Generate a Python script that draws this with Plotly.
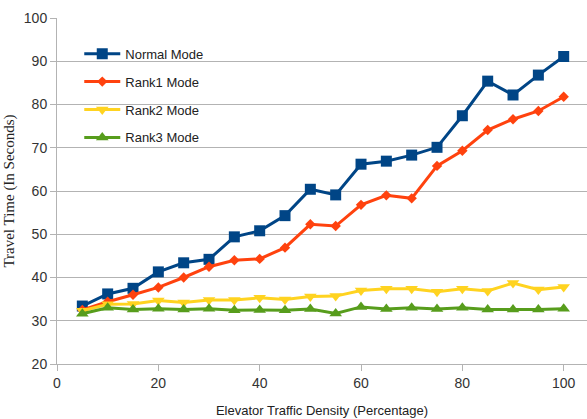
import plotly.graph_objects as go

density = [5, 10, 15, 20, 25, 30, 35, 40, 45, 50, 55, 60, 65, 70, 75, 80, 85, 90, 95, 100]
normal = [33.4, 36.2, 37.5, 41.3, 43.4, 44.2, 49.4, 50.8, 54.3, 60.4, 59.1, 66.2, 66.9, 68.3, 70.1, 77.4, 85.4, 82.2, 86.8, 91.1]
rank1 = [32.5, 34.4, 36.0, 37.7, 40.0, 42.5, 44.0, 44.3, 46.9, 52.3, 51.9, 56.8, 59.0, 58.3, 65.8, 69.3, 74.1, 76.6, 78.5, 81.8]
rank2 = [32.3, 33.8, 33.9, 34.7, 34.2, 34.8, 34.8, 35.3, 34.9, 35.6, 35.7, 37.0, 37.4, 37.4, 36.7, 37.4, 36.9, 38.7, 37.2, 37.8]
rank3 = [31.6, 33.0, 32.6, 32.8, 32.6, 32.8, 32.4, 32.5, 32.4, 32.7, 31.7, 33.2, 32.7, 33.0, 32.7, 33.0, 32.6, 32.6, 32.6, 32.8]

series = [
    ("Normal Mode", normal, "#004586", "square", 11),
    ("Rank1 Mode", rank1, "#ff420e", "diamond", 8),
    ("Rank2 Mode", rank2, "#ffd320", "triangle-down", 11),
    ("Rank3 Mode", rank3, "#579d1c", "triangle-up", 11),
]

fig = go.Figure()
for name, vals, color, sym, size in series:
    fig.add_trace(go.Scatter(
        x=density, y=vals, name=name, mode="lines+markers",
        legendgroup=name,
        line=dict(color=color, width=3),
        marker=dict(symbol=sym, size=size, color=color),
    ))

fig.update_layout(
    width=587, height=419,
    margin=dict(l=57, r=0, t=18, b=55, autoexpand=False),
    paper_bgcolor="white", plot_bgcolor="white",
    font=dict(family="Liberation Sans, Arial, sans-serif", size=13, color="#333333"),
    showlegend=True,
    legend=dict(x=0.042, y=0.94, xanchor="left", yanchor="top",
                bgcolor="rgba(0,0,0,0)", tracegroupgap=8, itemwidth=36,
                font=dict(size=13, color="#222222")),
    xaxis=dict(
        range=[0, 104.6], tickvals=[0, 20, 40, 60, 80, 100],
        showgrid=False, zeroline=False, automargin=False,
        showline=True, linecolor="#b3b3b3", linewidth=1,
        ticks="outside", ticklen=6, tickcolor="#b3b3b3",
        tickfont=dict(size=14, color="#333333"),
        title=dict(text="Elevator Traffic Density (Percentage)", standoff=16,
                   font=dict(size=13, color="#222222")),
    ),
    yaxis=dict(
        range=[20, 100], tickvals=[20, 30, 40, 50, 60, 70, 80, 90, 100],
        showgrid=True, gridcolor="#b3b3b3", gridwidth=1, zeroline=False, automargin=False,
        showline=True, linecolor="#b3b3b3", linewidth=1,
        ticks="outside", ticklen=6, tickcolor="#b3b3b3",
        tickfont=dict(size=14, color="#333333"),
        title=dict(text="Travel Time (In Seconds)", standoff=5,
                   font=dict(family="Liberation Serif, DejaVu Serif, serif", size=15, color="#222222")),
    ),
)

fig.write_html("out.html", config={"displayModeBar": False},
               post_script="document.body.style.margin='0';document.body.style.overflow='hidden';")
